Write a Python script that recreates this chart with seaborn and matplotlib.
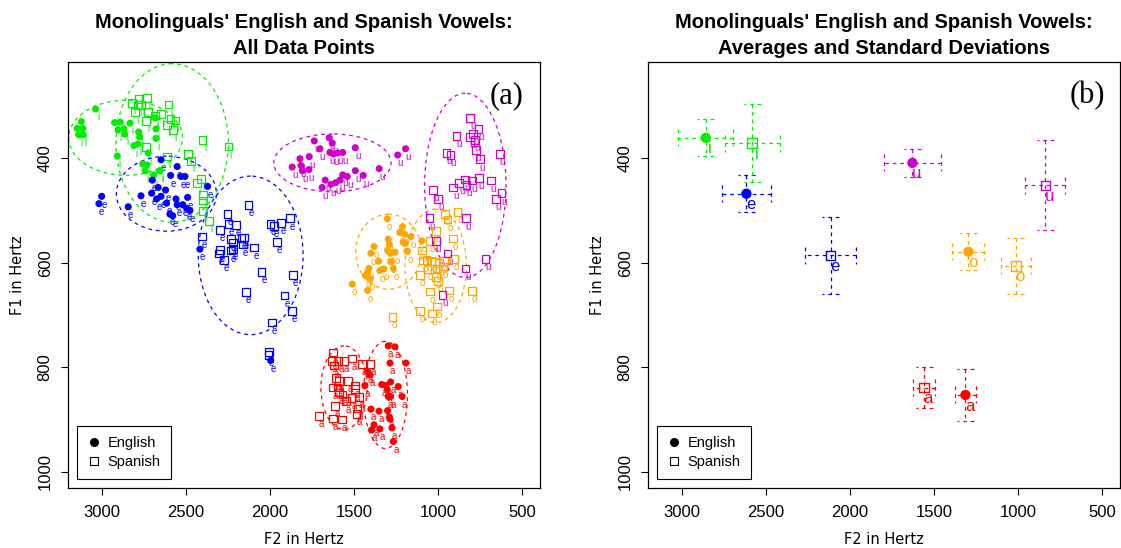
import numpy as np
import pandas as pd
import seaborn as sns
import matplotlib.pyplot as plt
from matplotlib.patches import Ellipse
from matplotlib.lines import Line2D

# vowel categories and R-style colours
VOWELS = ["i", "e", "a", "o", "u"]
COLORS = {"i": "#00ee00", "e": "#0000ff", "a": "#ff0000", "o": "#ffa500", "u": "#cd00cd"}

# ---- panel (a): individual tokens, F2 / F1 in Hz ----
eng_i_f2 = [3036, 3121, 3145, 3111, 3137, 3111, 2923, 2889, 2903, 2867, 2832, 2863, 2780, 2774,
            2677, 2677, 2784, 2808, 2907, 2756, 2741, 2655, 2681, 2731, 2689, 2723, 2653]
eng_i_f1 = [306, 330, 343, 343, 355, 355, 332, 331, 346, 344, 333, 354, 350, 359,
            344, 362, 373, 376, 396, 411, 424, 424, 323, 413, 432, 390, 424]
spa_i_f2 = [2818, 2780, 2731, 2784, 2765, 2800, 2723, 2681, 2646, 2602, 2737, 2590, 2562, 2610,
            2576, 2735, 2400, 2487, 2467, 2610, 2408, 2432, 2398, 2247, 2396, 2396, 2360]
spa_i_f1 = [294, 287, 285, 298, 298, 312, 312, 318, 316, 297, 329, 325, 328, 336,
            346, 379, 365, 392, 405, 397, 440, 448, 470, 378, 481, 501, 520]
eng_e_f2 = [2647, 2551, 2590, 2529, 2505, 2699, 2620, 2664, 2703, 2766, 2673, 2647, 2614, 2558,
            2489, 2551, 2518, 2495, 2475, 2594, 2578, 2842, 3000, 3016, 2370, 2416, 1995]
eng_e_f1 = [403, 416, 433, 435, 435, 442, 461, 456, 467, 472, 478, 473, 486, 478,
            475, 489, 489, 496, 500, 507, 510, 493, 473, 487, 454, 574, 787]
spa_e_f2 = [2126, 2251, 2245, 2203, 2295, 2231, 2218, 2168, 2154, 2158, 2096, 2297, 2303, 2231, 2218,
            2273, 1995, 1976, 1935, 1882, 1958, 2049, 2142, 1864, 1912, 1870, 1986, 2402, 2005, 2007]
spa_e_f1 = [489, 507, 526, 528, 537, 555, 561, 553, 552, 565, 571, 576, 582, 577, 574,
            595, 526, 530, 524, 515, 560, 618, 656, 623, 663, 692, 714, 550, 771, 776]
eng_u_f2 = [1647, 1736, 1629, 1702, 1492, 1643, 1623, 1597, 1567, 1766, 1821, 1867, 1815, 1807,
            1768, 1492, 1445, 1350, 1567, 1540, 1583, 1671, 1609, 1637, 1689, 1240, 1193]
eng_u_f1 = [361, 367, 371, 382, 380, 389, 392, 390, 389, 397, 401, 417, 414, 424,
            422, 424, 433, 420, 432, 435, 442, 442, 447, 450, 456, 394, 382]
spa_u_f2 = [809, 890, 810, 791, 759, 781, 775, 949, 925, 751, 632, 840, 800, 757, 874,
            910, 830, 687, 622, 656, 1029, 999, 1052, 834, 717, 838, 1014, 945, 973]
spa_u_f1 = [323, 357, 359, 354, 344, 365, 384, 390, 394, 402, 392, 441, 443, 438, 447,
            456, 451, 443, 467, 478, 461, 478, 515, 515, 593, 611, 558, 582, 662]
eng_o_f2 = [1302, 1211, 1227, 1201, 1161, 1207, 1195, 1096, 1296, 1290, 1300, 1286, 1256, 1381,
            1399, 1353, 1282, 1266, 1322, 1346, 1411, 1419, 1431, 1405, 1419, 1510, 1182]
eng_o_f1 = [516, 531, 542, 545, 550, 561, 563, 558, 555, 565, 576, 581, 580, 569,
            582, 597, 598, 611, 612, 615, 611, 619, 625, 631, 653, 641, 578]
spa_o_f2 = [957, 884, 945, 1013, 1048, 910, 1094, 1068, 1038, 1019, 993, 965, 904, 1088,
            1062, 1008, 969, 1108, 1014, 1002, 1048, 934, 797, 1005, 1035, 1108, 1272]
spa_o_f1 = [507, 503, 517, 539, 558, 554, 577, 595, 597, 598, 601, 597, 593, 596,
            612, 611, 607, 623, 627, 635, 655, 653, 654, 684, 697, 692, 704]
eng_a_f2 = [1296, 1256, 1286, 1191, 1419, 1405, 1435, 1335, 1310, 1282, 1302, 1237, 1296,
            1282, 1213, 1399, 1351, 1300, 1290, 1286, 1381, 1395, 1346, 1274, 1266]
eng_a_f1 = [759, 761, 792, 792, 808, 815, 835, 833, 835, 828, 843, 837, 856,
            856, 856, 880, 884, 883, 895, 899, 910, 920, 918, 916, 942]
spa_a_f2 = [1623, 1633, 1593, 1558, 1510, 1451, 1401, 1617, 1607, 1589, 1534, 1627, 1597,
            1494, 1494, 1567, 1514, 1469, 1613, 1549, 1480, 1708, 1623, 1570, 1484, 1589]
spa_a_f1 = [772, 788, 788, 788, 783, 794, 794, 797, 821, 826, 826, 839, 839,
            835, 842, 852, 859, 857, 874, 865, 879, 893, 898, 900, 889, 848]

# ---- panel (b): means and standard deviations ----
eng_f2_mean = [2857, 2615, 1313, 1295, 1628]
eng_f1_mean = [361, 468, 853, 579, 409]
eng_f2_sd = [165, 145, 64, 95, 170]
eng_f1_sd = [35, 35, 50, 35, 27]
spa_f2_mean = [2581, 2114, 1559, 1014, 838]
spa_f1_mean = [371, 586, 839, 606, 452]
spa_f2_sd = [163, 152, 67, 89, 118]
spa_f1_sd = [74, 74, 39, 53, 86]

tokens = {
    ("English", "i"): (eng_i_f2, eng_i_f1), ("Spanish", "i"): (spa_i_f2, spa_i_f1),
    ("English", "e"): (eng_e_f2, eng_e_f1), ("Spanish", "e"): (spa_e_f2, spa_e_f1),
    ("English", "a"): (eng_a_f2, eng_a_f1), ("Spanish", "a"): (spa_a_f2, spa_a_f1),
    ("English", "o"): (eng_o_f2, eng_o_f1), ("Spanish", "o"): (spa_o_f2, spa_o_f1),
    ("English", "u"): (eng_u_f2, eng_u_f1), ("Spanish", "u"): (spa_u_f2, spa_u_f1),
}
pts = pd.concat([pd.DataFrame({"F2": f2, "F1": f1, "lang": lang, "vowel": v})
                 for (lang, v), (f2, f1) in tokens.items()], ignore_index=True)

means = pd.concat([
    pd.DataFrame({"vowel": VOWELS, "lang": "English", "F2": eng_f2_mean, "F1": eng_f1_mean,
                  "sd2": eng_f2_sd, "sd1": eng_f1_sd}),
    pd.DataFrame({"vowel": VOWELS, "lang": "Spanish", "F2": spa_f2_mean, "F1": spa_f1_mean,
                  "sd2": spa_f2_sd, "sd1": spa_f1_sd}),
], ignore_index=True)

XLIM = (3200, 394)
YLIM = (1031, 216)
DASH = (0, (3, 3))
ELL_K = 2.05

sns.set_style("ticks")
plt.rcParams["font.family"] = ["Liberation Sans", "DejaVu Sans"]
plt.rcParams.update({"text.color": "black", "axes.labelcolor": "black",
                     "xtick.color": "black", "ytick.color": "black",
                     "axes.edgecolor": "black"})

W, H = 1121, 548
fig = plt.figure(figsize=(W / 100, H / 100), dpi=100)
ax1 = fig.add_axes([68 / W, 1 - 488 / H, 472 / W, 426 / H])
ax2 = fig.add_axes([648 / W, 1 - 488 / H, 472 / W, 426 / H])


def style_axes(ax, title, tag):
    ax.set_xlim(*XLIM)
    ax.set_ylim(*YLIM)
    ax.set_xticks([3000, 2500, 2000, 1500, 1000, 500])
    ax.set_yticks([400, 600, 800, 1000])
    ax.set_yticklabels(["400", "600", "800", "1000"], rotation=90, va="center")
    ax.tick_params(axis="both", length=5, width=0.8, labelsize=12, color="black",
                   labelcolor="black")
    ax.tick_params(axis="x", pad=7)
    ax.tick_params(axis="y", pad=6)
    for s in ax.spines.values():
        s.set_visible(True)
        s.set_color("black")
        s.set_linewidth(0.9)
    ax.set_xlabel("F2 in Hertz", family="DejaVu Sans", fontsize=10.5, labelpad=9)
    ax.set_ylabel("F1 in Hertz", family="DejaVu Sans", fontsize=10.5, labelpad=9)
    ax.set_title(title, fontsize=14.5, fontweight="bold", pad=6, linespacing=1.45,
                 color="black")
    ax.text(0.93, 0.922, tag, transform=ax.transAxes, ha="center", va="center",
            family="Liberation Serif", fontsize=22)
    handles = [Line2D([], [], marker="o", linestyle="none", color="black", markersize=5.5),
               Line2D([], [], marker="s", linestyle="none", mfc="none", mec="black",
                      markersize=6, mew=0.8)]
    leg = ax.legend(handles, ["English", "Spanish"], loc="lower left",
                    bbox_to_anchor=(0.019, 0.021), borderaxespad=0, fancybox=False,
                    edgecolor="black", framealpha=1, fontsize=10.5, handlelength=1.0,
                    handletextpad=0.4, borderpad=0.7, labelspacing=0.35)
    leg.get_frame().set_linewidth(0.8)


# ---- panel (a) ----
for v in VOWELS:
    col = COLORS[v]
    for lang in ["English", "Spanish"]:
        d = pts[(pts.lang == lang) & (pts.vowel == v)]
        if lang == "English":
            sns.scatterplot(data=d, x="F2", y="F1", color=col, marker="o", s=26,
                            edgecolor="none", ax=ax1, legend=False, zorder=3)
        else:
            sns.scatterplot(data=d, x="F2", y="F1", marker="s", s=30, facecolor="none",
                            edgecolor=col, linewidth=0.9, ax=ax1, legend=False, zorder=3)
        for x, y in zip(d.F2, d.F1):
            ax1.annotate(v, (x, y), xytext=(1.8, -6), textcoords="offset points",
                         ha="center", va="center", fontsize=7, color=col, zorder=2)

# dashed ellipses: mean +/- k standard deviations of each group
for _, r in means.iterrows():
    ax1.add_patch(Ellipse((r.F2, r.F1), 2 * ELL_K * r.sd2, 2 * ELL_K * r.sd1,
                          fill=False, edgecolor=COLORS[r.vowel], linewidth=0.9,
                          linestyle=DASH, zorder=2))

style_axes(ax1, "Monolinguals' English and Spanish Vowels:\nAll Data Points", "(a)")

# ---- panel (b) ----
style_axes(ax2, "Monolinguals' English and Spanish Vowels:\nAverages and Standard Deviations", "(b)")
cap_x = 8.5 * abs(XLIM[0] - XLIM[1]) / 472
cap_y = 8.5 * abs(YLIM[0] - YLIM[1]) / 426
for _, r in means.iterrows():
    col = COLORS[r.vowel]
    kw = dict(colors=col, linewidth=0.9, linestyles=DASH, zorder=2)
    ax2.hlines(r.F1, r.F2 - r.sd2, r.F2 + r.sd2, **kw)
    ax2.vlines(r.F2, r.F1 - r.sd1, r.F1 + r.sd1, **kw)
    ax2.vlines([r.F2 - r.sd2, r.F2 + r.sd2], r.F1 - cap_y, r.F1 + cap_y, **kw)
    ax2.hlines([r.F1 - r.sd1, r.F1 + r.sd1], r.F2 - cap_x, r.F2 + cap_x, **kw)
    ax2.annotate(r.vowel, (r.F2, r.F1), xytext=(3, -8), textcoords="offset points",
                 ha="center", va="center", fontsize=12, color=col, zorder=3)

for lang in ["English", "Spanish"]:
    d = means[means.lang == lang]
    for _, r in d.iterrows():
        col = COLORS[r.vowel]
        if lang == "English":
            sns.scatterplot(x=[r.F2], y=[r.F1], color=col, marker="o", s=55,
                            edgecolor="none", ax=ax2, legend=False, zorder=4)
        else:
            sns.scatterplot(x=[r.F2], y=[r.F1], marker="s", s=48, facecolor="none",
                            edgecolor=col, linewidth=1.0, ax=ax2, legend=False, zorder=4)

for ax in (ax1, ax2):
    ax.set_xlim(*XLIM)
    ax.set_ylim(*YLIM)
    ax.set_xlabel("F2 in Hertz", family="DejaVu Sans", fontsize=10.5, labelpad=9)
    ax.set_ylabel("F1 in Hertz", family="DejaVu Sans", fontsize=10.5, labelpad=9)

fig.savefig("out.png", dpi=100)
